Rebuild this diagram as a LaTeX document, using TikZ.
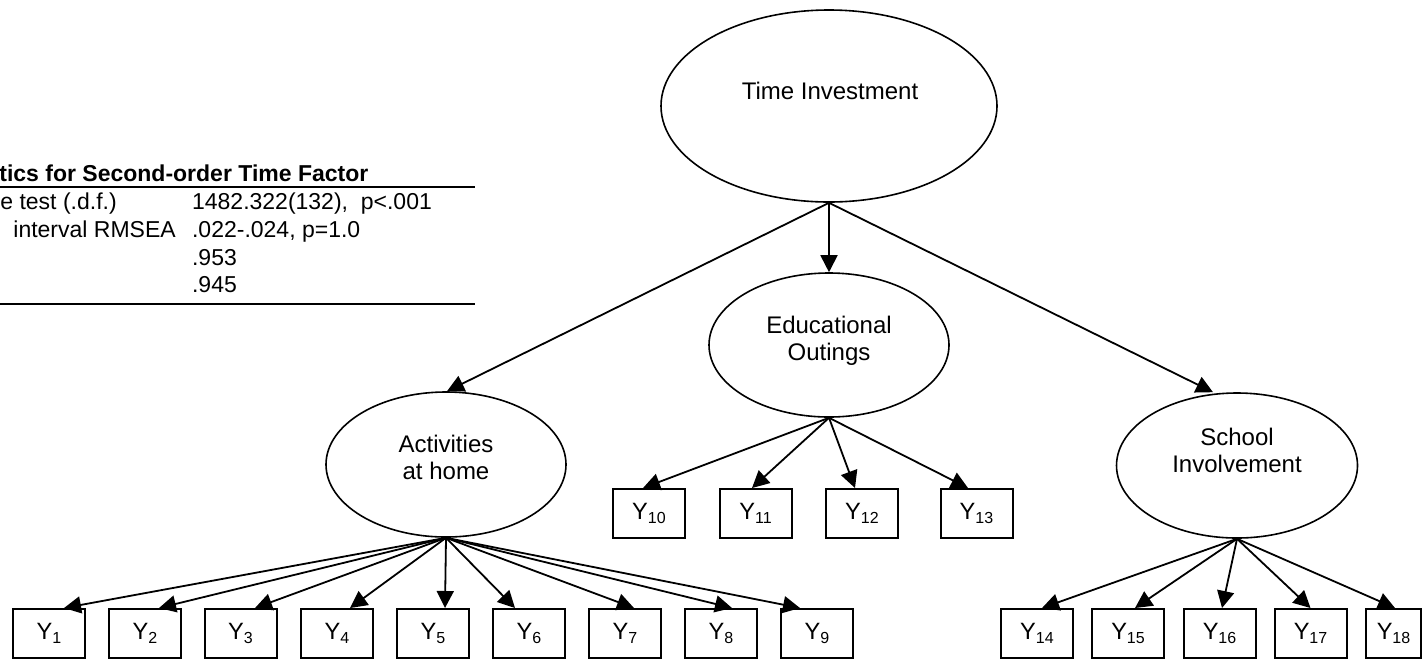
\documentclass[tikz,border=0pt]{standalone}
\usepackage{fontspec}
\setmainfont{Liberation Sans}
\usetikzlibrary{arrows.meta,shapes.geometric}
% indicator label: Y with a lowered, smaller index
\newcommand\ysub[1]{Y\raisebox{-2.2pt}{\fontsize{8}{8}\selectfont #1}}
\begin{document}
\begin{tikzpicture}[x=0.5pt,y=-0.5pt,
  latent/.style={ellipse, draw, line width=0.8pt, inner sep=0pt},
  obs/.style={rectangle, draw, line width=1pt, minimum width=36pt,
    minimum height=24.5pt, inner sep=0pt, font=\fontsize{11.8}{13.5}\selectfont},
  load/.style={line width=0.9pt, -{Triangle[length=8.5pt,width=8.5pt]}},
  lbl/.style={inner sep=0pt, align=center, font=\fontsize{12}{13.5}\selectfont},
  tabtext/.style={inner sep=0pt, anchor=base west, font=\fontsize{11.5}{13.5}\selectfont},
  rule/.style={line width=1pt}]
\useasboundingbox (0,0) rectangle (1422,660);
\clip (0,0) rectangle (1422,660);

% fit statistics table
\node[tabtext] (ttl) at (-1,181.7) {\bfseries tics for Second-order Time Factor};
\draw[rule] (0,187.3) -- (475,187.3);
\node[tabtext] (r1a) at (0,209.3) {e test (.d.f.)};
\node[tabtext] (r1b) at (191.7,209.3) {1482.322(132),\ \ p<.001};
\node[tabtext] (r2a) at (13,237.3) {interval RMSEA};
\node[tabtext] (r2b) at (191.7,237.3) {.022-.024, p=1.0};
\node[tabtext] (r3b) at (191.7,265) {.953};
\node[tabtext] (r4b) at (191.7,292.7) {.945};
\draw[rule] (0,304) -- (475,304);

% latent factors
\node[latent, minimum width=168pt, minimum height=96pt] (ti) at (829,106) {};
\node[latent, minimum width=120pt, minimum height=72pt] (edu) at (829,345) {};
\node[latent, minimum width=120pt, minimum height=72.5pt] (act) at (446,464.5) {};
\node[latent, minimum width=120.5pt, minimum height=72.5pt] (sch) at (1237,465.5) {};

\node[lbl, anchor=base] (ti-t) at (830,99) {Time Investment};
\node[lbl] (edu-t) at (829,340.5) {Educational\\Outings};
\node[lbl] (act-t) at (446,457.6) {Activities\\at home};
\node[lbl] (sch-t) at (1237,450.6) {School\\Involvement};

% indicators
\foreach \i/\x in {1/49,2/145,3/240.5,4/337,5/433,6/529,7/625,8/721,9/817}
  \node[obs] (y\i) at (\x,633.5) {\ysub{\i}};
\foreach \i/\x in {10/649,11/755.5,12/862,13/976.5}
  \node[obs] (y\i) at (\x,513.5) {\ysub{\i}};
\foreach \i/\x in {14/1037,15/1128,16/1219.5,17/1310.5}
  \node[obs] (y\i) at (\x,633.5) {\ysub{\i}};
\node[obs, minimum width=27.5pt] (y18) at (1393.5,633.5) {\ysub{18}};

% second-order loadings
\draw[load] (ti.south) -- ([xshift=0.5pt]act.north);
\draw[load] (ti.south) -- (edu.north);
\draw[load] (ti.south) -- ([xshift=-12pt]sch.north);

% first-order loadings
\foreach \i/\d in {1/7.5,2/7,3/7.25,4/6.5,5/6,6/-7,7/4.5,8/5.5,9/-8.5}
  \draw[load] (act.south) -- ([xshift=\d pt]y\i.north);
\foreach \i/\d in {10/-3,11/-1.75,12/-3.5,13/-4.25}
  \draw[load] (edu.south) -- ([xshift=\d pt]y\i.north);
\foreach \i/\d in {14/2.5,15/3.5,16/1.25,17/0,18/0.75}
  \draw[load] (sch.south) -- ([xshift=\d pt]y\i.north);
\end{tikzpicture}
\end{document}
